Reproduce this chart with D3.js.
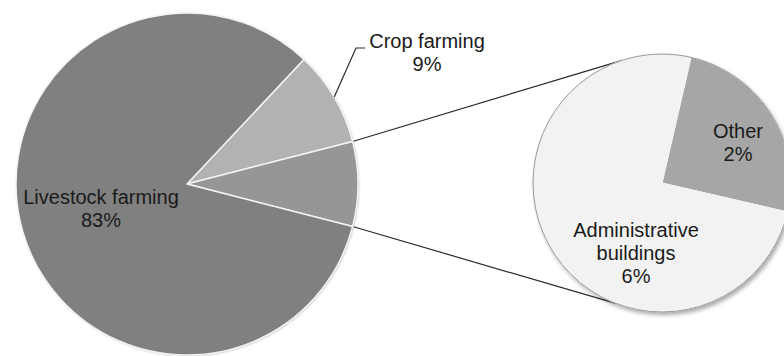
<!DOCTYPE html>
<html>
<head>
<meta charset="utf-8">
<script src="https://cdn.jsdelivr.net/npm/d3@7"></script>
<style>
  html, body { margin: 0; padding: 0; background: #fff; }
  svg text { font-family: "Liberation Sans", Arial, sans-serif; font-size: 20px; fill: #1a1a1a; }
</style>
</head>
<body>
<svg id="chart" width="784" height="356"></svg>
<script>
// Main pie: the last entry is the group split out into the secondary pie
const mainLabels = ['Crop farming', 'Other group', 'Livestock farming'];
const mainValues = [9, 8, 83];
const mainColors = ['#b2b2b2', '#969696', '#808080'];

// Secondary pie
const subLabels = ['Other', 'Administrative buildings'];
const subValues = [2, 6];
const subColors = ['#a6a6a6', '#f2f2f2'];

const svg = d3.select('#chart');
const rad = Math.PI / 180;

// Layout
const main = { cx: 187, cy: 184, r: 171 };
const sub = { cx: 662, cy: 183, r: 129 };

// Shadow filters
const defs = svg.append('defs');
defs.append('filter').attr('id', 'shadowSub')
    .attr('x', '-10%').attr('y', '-10%').attr('width', '125%').attr('height', '125%')
    .append('feDropShadow')
    .attr('dx', 2).attr('dy', 3).attr('stdDeviation', 2)
    .attr('flood-color', '#000').attr('flood-opacity', 0.35);
defs.append('filter').attr('id', 'shadowMain')
    .attr('x', '-10%').attr('y', '-10%').attr('width', '125%').attr('height', '125%')
    .append('feDropShadow')
    .attr('dx', 1).attr('dy', 1).attr('stdDeviation', 1.2)
    .attr('flood-color', '#000').attr('flood-opacity', 0.25);

// Centre the split-out slice on the horizontal (pointing right)
const total = d3.sum(mainValues);
const before = mainValues[0] + mainValues[1] / 2;
const mainStart = (90 - before / total * 360) * rad;

const mainPie = d3.pie().sort(null)
    .startAngle(mainStart).endAngle(mainStart + 2 * Math.PI);
const mainArcs = mainPie(mainValues);
const mainArc = d3.arc().innerRadius(0).outerRadius(main.r);

const subPie = d3.pie().sort(null)
    .startAngle(13 * rad).endAngle(13 * rad + 2 * Math.PI);
const subArcs = subPie(subValues);
const subArc = d3.arc().innerRadius(0).outerRadius(sub.r);

// point on a circle, angle measured clockwise from north
function polar(c, r, a) {
    return [c.cx + r * Math.sin(a), c.cy - r * Math.cos(a)];
}

// Connector lines from the split slice to the secondary pie
const grp = mainArcs[1];
const conn = [
    [polar(main, main.r, grp.startAngle), polar(sub, sub.r, 342 * rad)],
    [polar(main, main.r, grp.endAngle), polar(sub, sub.r, 201 * rad)]
];
svg.append('g').selectAll('line')
    .data(conn)
    .join('line')
    .attr('x1', d => d[0][0]).attr('y1', d => d[0][1])
    .attr('x2', d => d[1][0]).attr('y2', d => d[1][1])
    .attr('stroke', '#2a2a2a')
    .attr('stroke-width', 1.2);

// Main pie
const gMain = svg.append('g')
    .attr('transform', `translate(${main.cx},${main.cy})`);
gMain.append('circle')
    .attr('r', main.r)
    .attr('fill', '#808080')
    .attr('filter', 'url(#shadowMain)');
gMain.selectAll('path')
    .data(mainArcs)
    .join('path')
    .attr('d', mainArc)
    .attr('fill', (d, i) => mainColors[i])
    .attr('stroke', '#f4f4f4')
    .attr('stroke-width', 1.5)
    .attr('stroke-linejoin', 'round');

// Secondary pie
const gSub = svg.append('g')
    .attr('transform', `translate(${sub.cx},${sub.cy})`);
gSub.append('circle')
    .attr('r', sub.r)
    .attr('fill', '#f2f2f2')
    .attr('filter', 'url(#shadowSub)');
gSub.selectAll('path')
    .data(subArcs)
    .join('path')
    .attr('d', subArc)
    .attr('fill', (d, i) => subColors[i])
    .attr('stroke', '#f2f2f2')
    .attr('stroke-width', 1);
gSub.append('circle')
    .attr('r', sub.r)
    .attr('fill', 'none')
    .attr('stroke', '#9a9a9a')
    .attr('stroke-width', 1);

// Labels
function label(x, y, lines) {
    const t = svg.append('text')
        .attr('text-anchor', 'middle')
        .attr('x', x).attr('y', y);
    lines.forEach((s, i) => {
        t.append('tspan').attr('x', x).attr('dy', i === 0 ? 0 : 23).text(s);
    });
}

label(101, 204, ['Livestock farming', mainValues[2] + '%']);
label(427, 48, ['Crop farming', mainValues[0] + '%']);
label(636, 237, ['Administrative', 'buildings', subValues[1] + '%']);
label(738, 138, ['Other', subValues[0] + '%']);

// Leader line for the crop label
const cropMid = (mainArcs[0].startAngle + mainArcs[0].endAngle) / 2;
const p0 = polar(main, main.r, cropMid);
svg.append('polyline')
    .attr('points', [p0, [356, 48], [365, 48]].map(p => p.join(',')).join(' '))
    .attr('fill', 'none')
    .attr('stroke', '#2a2a2a')
    .attr('stroke-width', 1.2);
</script>
</body>
</html>
